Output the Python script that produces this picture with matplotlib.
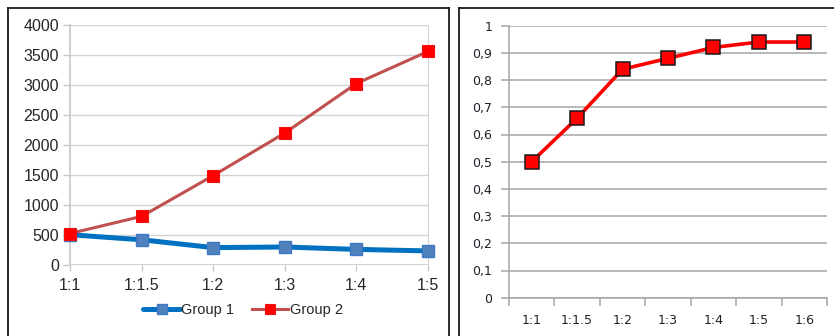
import matplotlib
matplotlib.use("Agg")
import matplotlib.pyplot as plt
from matplotlib.lines import Line2D
from matplotlib.ticker import FixedLocator, FuncFormatter

# Left chart: two groups over ratio categories
left_categories = ["1:1", "1:1.5", "1:2", "1:3", "1:4", "1:5"]
group1 = [505, 420, 290, 300, 260, 235]
group2 = [525, 810, 1490, 2200, 3025, 3560]
left_yticks = [0, 500, 1000, 1500, 2000, 2500, 3000, 3500, 4000]

# Right chart: single series, decimal-comma tick labels
right_categories = ["1:1", "1:1.5", "1:2", "1:3", "1:4", "1:5", "1:6"]
right_values = [0.50, 0.66, 0.84, 0.88, 0.92, 0.94, 0.94]
right_yticks = [0, 0.1, 0.2, 0.3, 0.4, 0.5, 0.6, 0.7, 0.8, 0.9, 1.0]

W, H = 834, 336
fig = plt.figure(figsize=(W / 100, H / 100), dpi=100)
fig.patch.set_facecolor("white")


def fx(px):
    return px / W


def fy(py):
    return 1 - py / H


# Outer frames around each chart
frame_kw = dict(color="#1a1a1a", lw=1.3, transform=fig.transFigure, clip_on=False)
fig.add_artist(Line2D([fx(8), fx(8)], [fy(8), fy(336)], **frame_kw))
fig.add_artist(Line2D([fx(8), fx(449)], [fy(8), fy(8)], **frame_kw))
fig.add_artist(Line2D([fx(449), fx(449)], [fy(8), fy(336)], **frame_kw))
fig.add_artist(Line2D([fx(459), fx(459)], [fy(8), fy(336)], **frame_kw))
fig.add_artist(Line2D([fx(459), fx(834)], [fy(8), fy(8)], **frame_kw))

# ---------------- Left chart ----------------
lfont = "Liberation Sans"
axl = fig.add_axes([fx(70), fy(265), fx(428) - fx(70), fy(25) - fy(265)])
xl = list(range(len(left_categories)))
axl.plot(xl, group1, color="#0070c0", lw=3.6, marker="s", ms=8.2,
         mfc="#4f81bd", mec="#3d78c4", mew=1.0, solid_capstyle="round",
         label="Group 1", zorder=3, clip_on=False)
axl.plot(xl, group2, color="#c0504d", lw=2.2, marker="s", ms=8.6,
         mfc="#ff0000", mec="#ee1111", mew=0.8,
         label="Group 2", zorder=4, clip_on=False)
axl.set_xlim(0, len(left_categories) - 1)
axl.set_ylim(0, 4000)
axl.set_yticks(left_yticks)
axl.set_xticks(xl)
axl.set_xticklabels(left_categories)
axl.grid(axis="y", color="#d4d4d4", lw=1.0)
axl.set_axisbelow(True)
for s in ["top", "bottom"]:
    axl.spines[s].set_visible(False)
axl.spines["left"].set_color("#c8c8c8")
axl.spines["right"].set_color("#d4d4d4")
axl.spines["left"].set_linewidth(1.2)
axl.axhline(0, color="#c8c8c8", lw=1.2, zorder=1)
axl.tick_params(axis="y", length=5, width=1, color="#c8c8c8", pad=3,
                labelsize=11.5, labelcolor="#262626")
axl.tick_params(axis="x", length=4, width=1, color="#c8c8c8", pad=5,
                labelsize=11.5, labelcolor="#262626")
for lab in axl.get_xticklabels() + axl.get_yticklabels():
    lab.set_fontfamily(lfont)
leg = axl.legend(loc="center", bbox_to_anchor=(fx(243), fy(310)),
                 bbox_transform=fig.transFigure, ncol=2, frameon=False,
                 handlelength=2.5, handletextpad=0.1, columnspacing=1.2,
                 markerscale=0.8, prop={"family": lfont, "size": 10.5})
for t in leg.get_texts():
    t.set_color("#262626")

# ---------------- Right chart ----------------
rfont = "DejaVu Sans"
axr = fig.add_axes([fx(509), fy(297.7), fx(827) - fx(509), fy(25.7) - fy(297.7)])
xr = list(range(len(right_categories)))
axr.plot(xr, right_values, color="#ff0000", lw=2.6, marker="s", ms=9.8,
         mfc="#ff0000", mec="#1a1a1a", mew=1.1, zorder=3)
axr.set_xlim(-0.5, len(right_categories) - 0.5)
axr.set_ylim(0, 1)
axr.set_yticks(right_yticks)
axr.yaxis.set_major_formatter(
    FuncFormatter(lambda v, p: ("%g" % round(v, 1)).replace(".", ",")))
axr.set_xticks(xr)
axr.set_xticklabels(right_categories)
axr.xaxis.set_minor_locator(FixedLocator([i - 0.5 for i in range(len(right_categories) + 1)]))
axr.grid(axis="y", color="#a6a6a6", lw=1.1)
axr.set_axisbelow(True)
for s in ["top", "right"]:
    axr.spines[s].set_visible(False)
axr.spines["left"].set_color("#a6a6a6")
axr.spines["bottom"].set_color("#a6a6a6")
axr.spines["left"].set_linewidth(1.1)
axr.spines["bottom"].set_linewidth(1.1)
axr.tick_params(axis="y", length=6, width=1.1, color="#a6a6a6", pad=6,
                labelsize=9, labelcolor="#1f1f2a")
axr.tick_params(axis="x", which="major", length=0, pad=12,
                labelsize=9, labelcolor="#1f1f2a")
axr.tick_params(axis="x", which="minor", length=6, width=1.1, color="#a6a6a6")
for lab in axr.get_xticklabels() + axr.get_yticklabels():
    lab.set_fontfamily(rfont)

fig.savefig("out.png", dpi=100, facecolor="white")
